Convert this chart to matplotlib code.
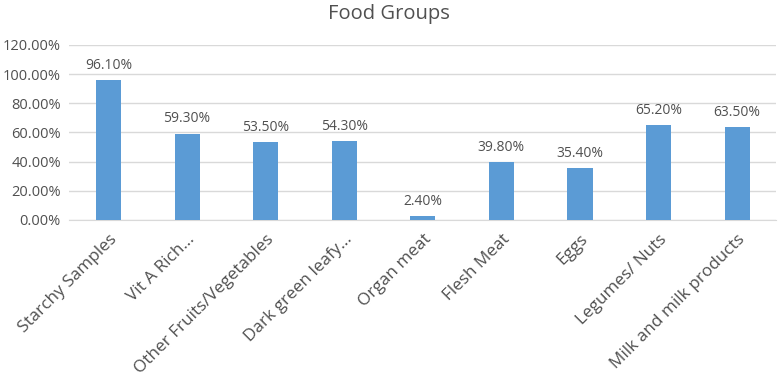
import matplotlib.pyplot as plt
import numpy as np
from matplotlib.ticker import FuncFormatter

categories = ["Starchy Samples", "Vit A Rich...", "Other Fruits/Vegetables", "Dark green leafy...",
              "Organ meat", "Flesh Meat", "Eggs", "Legumes/ Nuts", "Milk and milk products"]
values = [96.1, 59.3, 53.5, 54.3, 2.4, 39.8, 35.4, 65.2, 63.5]

plt.rcParams['font.family'] = ['Open Sans', 'DejaVu Sans']
txt = '#505050'

fig = plt.figure(figsize=(7.78, 3.78), dpi=100)
ax = fig.add_axes([0.089, 0.418, 0.909, 0.463])

x = np.arange(len(categories))
ax.bar(x, values, width=0.32, color='#5B9BD5', zorder=3)
for xi, v in zip(x, values):
    ax.text(xi, v + 5, f"{v:.2f}%", ha='center', va='bottom', fontsize=10, color=txt)

ax.set_xlim(-0.5, len(categories) - 0.5)
ax.set_ylim(0, 120)
ax.set_yticks(np.arange(0, 121, 20))
ax.yaxis.set_major_formatter(FuncFormatter(lambda v, p: f"{v:.2f}%"))
ax.grid(axis='y', color='#D9D9D9', linewidth=1, zorder=0)
for s in ['top', 'right', 'left']:
    ax.spines[s].set_visible(False)
ax.spines['bottom'].set_color('#D9D9D9')
ax.tick_params(axis='both', length=0, colors=txt, labelsize=10.5)
ax.tick_params(axis='y', pad=6)
ax.set_xticks(x)
ax.set_xticklabels(categories, rotation=45, ha='right', rotation_mode='anchor', fontsize=12.3)
ax.tick_params(axis='x', pad=8)

fig.text(0.5, 0.962, "Food Groups", ha='center', va='center', fontsize=14.5, color=txt)

fig.savefig("out.png", dpi=100)
